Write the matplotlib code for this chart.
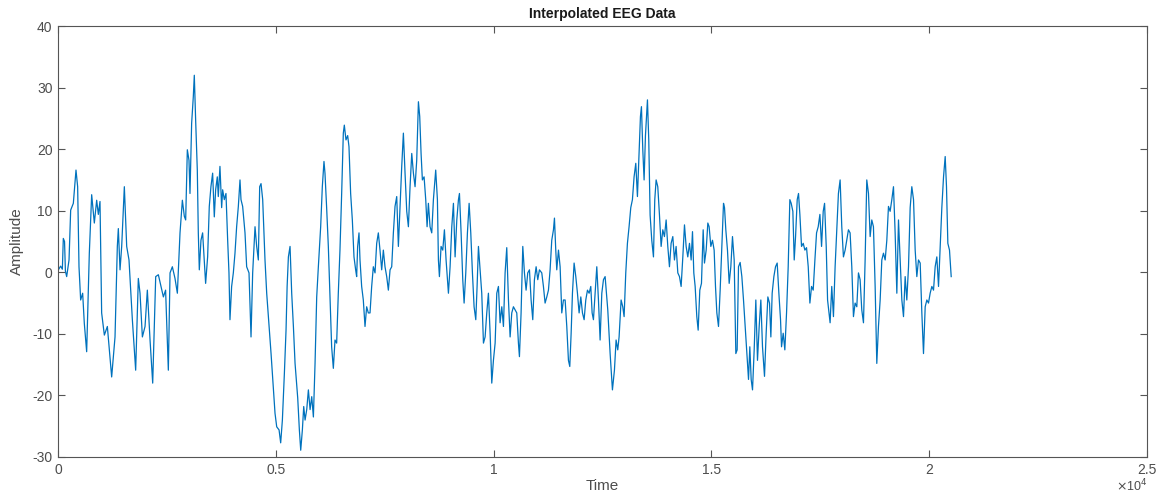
import numpy as np
import matplotlib
matplotlib.use("Agg")
import matplotlib.pyplot as plt

# trace vertices (time in samples, amplitude)
time = [
    0, 60, 100, 122, 150, 170, 199, 253, 291, 352, 413, 451, 482, 520, 566, 604, 658, 719, 773, 834,
    888, 926, 964, 1002, 1064, 1133, 1232, 1309, 1362, 1385, 1424, 1462, 1523, 1577, 1630, 1707, 1783, 1844, 1883, 1937,
    1998, 2051, 2113, 2174, 2243, 2304, 2365, 2419, 2470, 2533, 2572, 2625, 2686, 2740, 2801, 2855, 2900, 2931, 2969, 3007,
    3030, 3068, 3106, 3129, 3160, 3198, 3221, 3244, 3282, 3320, 3358, 3389, 3435, 3473, 3511, 3550, 3588, 3619, 3657, 3680,
    3718, 3757, 3780, 3818, 3856, 3895, 3925, 3948, 3986, 4025, 4063, 4101, 4140, 4178, 4201, 4239, 4293, 4331, 4385, 4431,
    4469, 4523, 4561, 4599, 4630, 4661, 4699, 4752, 4791, 4845, 4891, 4944, 4982, 5021, 5075, 5112, 5151, 5197, 5235, 5260,
    5289, 5327, 5365, 5404, 5442, 5503, 5541, 5572, 5610, 5641, 5672, 5710, 5748, 5787, 5825, 5863, 5901, 5939, 5977, 6030,
    6068, 6106, 6129, 6167, 6206, 6244, 6282, 6321, 6359, 6397, 6435, 6473, 6512, 6550, 6573, 6611, 6650, 6680, 6718, 6757,
    6795, 6833, 6856, 6879, 6910, 6933, 6971, 7009, 7048, 7086, 7124, 7163, 7201, 7239, 7278, 7316, 7354, 7392, 7431, 7469,
    7507, 7546, 7584, 7623, 7661, 7699, 7737, 7776, 7814, 7852, 7891, 7929, 7967, 8006, 8044, 8082, 8121, 8159, 8197, 8235,
    8274, 8304, 8335, 8365, 8404, 8442, 8473, 8503, 8541, 8580, 8618, 8671, 8710, 8733, 8756, 8794, 8833, 8871, 8909, 8940,
    8963, 9001, 9040, 9078, 9116, 9155, 9193, 9216, 9254, 9292, 9323, 9361, 9399, 9438, 9476, 9514, 9552, 9591, 9621, 9652,
    9690, 9728, 9767, 9805, 9843, 9881, 9920, 9958, 9996, 10035, 10073, 10111, 10149, 10188, 10226, 10264, 10302, 10341, 10379, 10417,
    10455, 10494, 10532, 10570, 10593, 10631, 10670, 10708, 10746, 10784, 10823, 10861, 10899, 10937, 10976, 11014, 11052, 11106, 11144, 11182,
    11221, 11259, 11297, 11335, 11374, 11397, 11427, 11450, 11489, 11527, 11565, 11603, 11642, 11680, 11718, 11749, 11780, 11810, 11848, 11887,
    11925, 11963, 12002, 12040, 12078, 12116, 12155, 12193, 12231, 12262, 12292, 12331, 12369, 12407, 12445, 12484, 12522, 12560, 12621, 12675,
    12728, 12774, 12812, 12850, 12881, 12927, 12965, 12996, 13034, 13072, 13110, 13149, 13187, 13225, 13264, 13302, 13340, 13371, 13394, 13425,
    13455, 13486, 13532, 13562, 13593, 13631, 13670, 13700, 13731, 13769, 13807, 13846, 13884, 13922, 13961, 13999, 14037, 14075, 14114, 14152,
    14190, 14229, 14267, 14305, 14344, 14382, 14420, 14458, 14497, 14535, 14566, 14596, 14627, 14665, 14696, 14734, 14772, 14811, 14841, 14880,
    14918, 14948, 14987, 15025, 15063, 15094, 15125, 15163, 15201, 15240, 15278, 15301, 15331, 15369, 15408, 15446, 15484, 15523, 15561, 15591,
    15622, 15660, 15699, 15737, 15775, 15813, 15852, 15882, 15913, 15944, 15982, 16020, 16058, 16097, 16135, 16173, 16219, 16257, 16296, 16334,
    16365, 16395, 16434, 16472, 16510, 16549, 16587, 16610, 16648, 16686, 16725, 16763, 16801, 16832, 16870, 16901, 16932, 16970, 17000, 17031,
    17069, 17108, 17146, 17184, 17223, 17261, 17299, 17337, 17376, 17414, 17452, 17491, 17529, 17567, 17598, 17636, 17667, 17725, 17763, 17802,
    17840, 17878, 17916, 17955, 17993, 18031, 18070, 18108, 18146, 18184, 18223, 18261, 18299, 18338, 18376, 18414, 18452, 18491, 18529, 18567,
    18606, 18644, 18682, 18720, 18759, 18797, 18835, 18874, 18912, 18950, 18989, 19027, 19065, 19103, 19142, 19180, 19218, 19257, 19295, 19333,
    19372, 19410, 19448, 19486, 19525, 19563, 19601, 19640, 19678, 19716, 19754, 19793, 19831, 19869, 19908, 19946, 19984, 20022, 20061, 20099,
    20137, 20175, 20214, 20252, 20290, 20329, 20367, 20397, 20428, 20466, 20505,
]
amplitude = [
    0.3, 1.0, 0.5, 5.5, 5.0, 0.2, -0.7, 2.0, 10.1, 11.2, 16.6, 13.9, 0.9, -4.5, -3.4, -8.3, -12.9, 3.1, 12.6, 8.0,
    11.7, 9.4, 11.5, -6.6, -10.2, -8.8, -17.0, -10.5, 4.2, 7.1, 0.4, 4.2, 13.9, 4.2, 2.0, -7.7, -15.9, -1.0, -3.4, -10.5,
    -8.8, -2.9, -11.0, -18.0, -0.7, -0.4, -2.3, -4.0, -2.9, -15.9, -0.1, 0.9, -1.0, -3.4, 6.4, 11.7, 9.1, 8.5, 19.9, 18.2,
    12.8, 24.2, 28.5, 32.0, 24.7, 16.6, 6.4, 0.4, 5.2, 6.4, 2.0, -1.8, 2.5, 10.7, 13.9, 16.1, 9.0, 13.4, 15.5, 12.3,
    17.2, 10.5, 13.4, 11.8, 12.8, 5.2, -0.1, -7.7, -2.3, -0.1, 3.1, 7.4, 10.7, 15.0, 11.8, 10.7, 6.4, 0.9, -0.1, -10.5,
    -0.1, 7.4, 4.2, 2.0, 13.9, 14.4, 11.8, 2.0, -3.4, -8.8, -13.2, -19.0, -22.9, -25.1, -25.6, -27.7, -24.0, -16.4, -9.4, -2.3,
    2.5, 4.2, -3.4, -8.8, -14.8, -20.4, -25.6, -28.9, -25.6, -21.8, -24.0, -22.3, -19.1, -22.3, -20.2, -23.5, -14.8, -4.0, 0.9, 7.4,
    13.9, 18.0, 16.1, 10.5, 4.2, -4.0, -12.1, -15.6, -11.0, -11.5, -3.4, 3.6, 12.8, 22.6, 23.9, 21.5, 22.2, 20.4, 12.8, 8.5,
    2.5, 0.4, -0.7, 4.2, 6.4, 2.0, -2.3, -4.5, -8.8, -5.6, -6.6, -6.6, -2.3, 0.9, -0.1, 4.7, 6.4, 3.6, 0.4, 3.6,
    0.9, -0.7, -2.9, 0.4, 0.9, 6.4, 10.7, 12.3, 4.2, 10.5, 17.2, 22.6, 16.1, 9.9, 7.4, 13.9, 19.3, 16.1, 13.9, 18.2,
    27.7, 25.3, 19.3, 15.0, 15.5, 11.8, 7.4, 11.2, 7.4, 6.4, 11.8, 16.6, 11.8, 2.0, -0.7, 4.2, 3.6, 6.9, 2.0, -1.2,
    -3.4, 0.9, 7.4, 11.2, 2.5, 8.5, 11.8, 12.8, 6.4, -1.2, -5.0, -0.1, 6.4, 11.2, 6.4, -0.1, -5.6, -7.7, -2.3, 4.2,
    0.4, -3.4, -11.5, -10.5, -6.6, -3.4, -9.9, -18.0, -14.3, -11.5, -3.4, -2.3, -8.2, -5.6, -8.8, -0.1, 4.0, -4.5, -10.5, -6.6,
    -5.6, -6.1, -6.6, -11.5, -13.7, -6.6, 4.2, -0.1, -2.9, -0.1, 0.4, -4.5, -7.7, -1.2, 0.9, -1.2, 0.4, -0.1, -2.3, -5.0,
    -4.0, -2.9, 0.4, 5.2, 6.9, 8.8, 3.6, 0.4, 3.6, 0.9, -6.6, -4.5, -4.5, -8.8, -14.3, -15.3, -9.9, -3.4, 1.5, -0.7,
    -3.4, -6.6, -4.0, -6.6, -7.7, -4.5, -2.9, -3.4, -2.3, -6.6, -7.7, -3.4, 0.9, -4.5, -11.0, -3.4, -1.2, -0.7, -6.1, -13.2,
    -19.1, -15.9, -11.0, -12.6, -10.5, -4.5, -5.6, -7.2, -0.1, 4.7, 7.4, 10.5, 11.8, 15.5, 17.7, 12.3, 19.3, 25.3, 26.9, 19.9,
    15.0, 22.2, 28.0, 21.5, 9.3, 5.2, 2.5, 11.8, 15.0, 13.9, 9.4, 4.2, 6.9, 5.8, 8.5, 4.2, 0.9, 4.7, 5.8, 2.0,
    4.2, -0.1, -0.7, -2.3, 2.5, 7.7, 4.2, 2.5, 4.7, 2.0, 6.6, -0.1, -2.3, -7.2, -9.4, -2.9, -1.8, 6.9, 1.5, 3.6,
    8.0, 7.4, 4.2, 5.2, 3.6, -2.3, -6.6, -8.8, -2.9, 4.2, 11.2, 10.5, 6.9, 3.6, -1.8, 0.9, 5.8, 2.0, -13.2, -12.6,
    0.9, 1.6, -0.7, -4.5, -8.8, -13.2, -17.4, -12.1, -17.4, -19.1, -12.6, -4.5, -14.3, -8.8, -4.5, -12.1, -16.9, -9.9, -4.0, -5.0,
    -10.5, -3.4, -0.7, 0.9, 1.5, -3.4, -7.7, -12.1, -9.9, -12.6, -6.6, 0.9, 11.8, 11.2, 9.9, 2.0, 5.8, 11.8, 12.8, 9.4,
    4.2, 4.7, 3.6, 4.0, 0.9, -5.0, -2.3, -2.9, 2.0, 6.4, 7.4, 9.4, 4.2, 9.9, 11.2, 4.2, -4.5, -8.2, -2.3, -7.2,
    0.9, 6.9, 12.8, 15.0, 7.4, 2.5, 3.6, 5.2, 6.9, 6.4, 0.9, -7.2, -5.0, -5.6, -0.1, -1.2, -6.1, -8.2, 2.0, 15.0,
    12.8, 5.8, 8.5, 7.4, -2.3, -14.8, -8.8, -4.5, 2.0, 3.1, 2.0, 5.2, 10.7, 9.9, 11.8, 13.9, 6.4, -3.4, 8.5, 2.0,
    -4.5, -7.2, -0.7, -4.5, 0.9, 10.5, 13.9, 11.8, 3.6, -0.7, 2.0, 1.5, -6.6, -13.2, -5.6, -4.5, -5.0, -3.4, -2.3, -2.9,
    0.9, 2.5, -2.3, 4.2, 10.5, 15.5, 18.8, 13.9, 4.7, 3.6, -0.7,
]

x_ticks = [0, 5000, 10000, 15000, 20000, 25000]
x_tick_labels = ["0", "0.5", "1", "1.5", "2", "2.5"]
y_ticks = [-30, -20, -10, 0, 10, 20, 30, 40]

plt.rcParams["font.family"] = ["Liberation Sans", "DejaVu Sans"]
plt.rcParams["axes.unicode_minus"] = False

fig = plt.figure(figsize=(11.62, 4.96), dpi=100)
ax = fig.add_axes([58 / 1162, 1 - 457 / 496, 1089 / 1162, 431 / 496])

ax.plot(time, amplitude, color="#0072BD", linewidth=0.9)

ax.set_xlim(0, 25000)
ax.set_ylim(-30, 40)
ax.set_xticks(x_ticks)
ax.set_xticklabels(x_tick_labels)
ax.set_yticks(y_ticks)

grey = "#4d4d4d"
for s in ax.spines.values():
    s.set_color("#555555")
    s.set_linewidth(0.8)
ax.tick_params(direction="in", top=True, right=True, length=5, width=0.8,
               colors="#555555", labelcolor=grey, labelsize=10, pad=4)

ax.set_title("Interpolated EEG Data", fontsize=10, fontweight="bold", color="#1a1a1a", pad=6)
ax.set_xlabel("Time", fontsize=11, color=grey, labelpad=2)
ax.set_ylabel("Amplitude", fontsize=11, color=grey, labelpad=6)
ax.text(1.0, -0.068, r"$\times$10$^{4}$", transform=ax.transAxes, ha="right", va="center",
        fontsize=9, color=grey)

fig.savefig("out.png", dpi=100)
